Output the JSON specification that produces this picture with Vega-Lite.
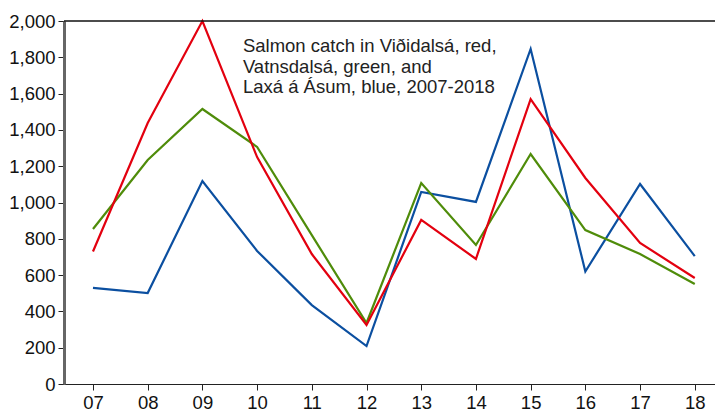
{
  "$schema": "https://vega.github.io/schema/vega-lite/v6.json",
  "width": 651,
  "height": 363,
  "autosize": {"type": "none"},
  "padding": {"left": 64, "top": 21, "right": 0, "bottom": 27},
  "background": "white",
  "config": {
    "view": {"stroke": null},
    "font": "Liberation Sans",
    "axis": {
      "labelFont": "Liberation Sans",
      "labelFontSize": 18.5,
      "labelColor": "#111",
      "tickColor": "#222",
      "grid": false,
      "title": null,
      "labelOverlap": false
    }
  },
  "data": {
    "values": [
      {"year": 2007, "river": "Laxá á Ásum", "catch": 530},
      {"year": 2008, "river": "Laxá á Ásum", "catch": 501},
      {"year": 2009, "river": "Laxá á Ásum", "catch": 1118},
      {"year": 2010, "river": "Laxá á Ásum", "catch": 733},
      {"year": 2011, "river": "Laxá á Ásum", "catch": 435},
      {"year": 2012, "river": "Laxá á Ásum", "catch": 209},
      {"year": 2013, "river": "Laxá á Ásum", "catch": 1058},
      {"year": 2014, "river": "Laxá á Ásum", "catch": 1003},
      {"year": 2015, "river": "Laxá á Ásum", "catch": 1846},
      {"year": 2016, "river": "Laxá á Ásum", "catch": 620},
      {"year": 2017, "river": "Laxá á Ásum", "catch": 1102},
      {"year": 2018, "river": "Laxá á Ásum", "catch": 705},
      {"year": 2007, "river": "Vatnsdalsá", "catch": 854},
      {"year": 2008, "river": "Vatnsdalsá", "catch": 1234},
      {"year": 2009, "river": "Vatnsdalsá", "catch": 1515},
      {"year": 2010, "river": "Vatnsdalsá", "catch": 1306},
      {"year": 2011, "river": "Vatnsdalsá", "catch": 820},
      {"year": 2012, "river": "Vatnsdalsá", "catch": 336},
      {"year": 2013, "river": "Vatnsdalsá", "catch": 1107},
      {"year": 2014, "river": "Vatnsdalsá", "catch": 766},
      {"year": 2015, "river": "Vatnsdalsá", "catch": 1267},
      {"year": 2016, "river": "Vatnsdalsá", "catch": 848},
      {"year": 2017, "river": "Vatnsdalsá", "catch": 716},
      {"year": 2018, "river": "Vatnsdalsá", "catch": 551},
      {"year": 2007, "river": "Víðidalsá", "catch": 730},
      {"year": 2008, "river": "Víðidalsá", "catch": 1438},
      {"year": 2009, "river": "Víðidalsá", "catch": 2000},
      {"year": 2010, "river": "Víðidalsá", "catch": 1250},
      {"year": 2011, "river": "Víðidalsá", "catch": 716},
      {"year": 2012, "river": "Víðidalsá", "catch": 325},
      {"year": 2013, "river": "Víðidalsá", "catch": 904},
      {"year": 2014, "river": "Víðidalsá", "catch": 689},
      {"year": 2015, "river": "Víðidalsá", "catch": 1570},
      {"year": 2016, "river": "Víðidalsá", "catch": 1135},
      {"year": 2017, "river": "Víðidalsá", "catch": 777},
      {"year": 2018, "river": "Víðidalsá", "catch": 584}
    ]
  },
  "encoding": {
    "x": {
      "field": "year",
      "type": "quantitative",
      "scale": {"domain": [2006.47, 2018.37], "nice": false, "zero": false},
      "axis": {
        "values": [2007, 2008, 2009, 2010, 2011, 2012, 2013, 2014, 2015, 2016, 2017, 2018],
        "format": "d",
        "labelExpr": "substring(datum.label, 2)",
        "domainColor": "#222",
        "domainWidth": 1.2,
        "tickSize": 6,
        "labelPadding": 3,
        "labelOverlap": false
      }
    },
    "y": {
      "field": "catch",
      "type": "quantitative",
      "scale": {"domain": [0, 2000], "nice": false},
      "axis": {
        "values": [0, 200, 400, 600, 800, 1000, 1200, 1400, 1600, 1800, 2000],
        "format": ",d",
        "domainColor": "#666",
        "domainWidth": 3,
        "tickSize": 6,
        "labelPadding": 3,
        "labelOverlap": false
      }
    }
  },
  "layer": [
    {
      "mark": {"type": "line", "strokeWidth": 2.2, "clip": false},
      "encoding": {
        "color": {
          "field": "river",
          "type": "nominal",
          "scale": {
            "domain": ["Laxá á Ásum", "Vatnsdalsá", "Víðidalsá"],
            "range": ["#0b4fa0", "#4f8c0a", "#e3000f"]
          },
          "legend": null
        }
      }
    },
    {
      "data": {"values": [{"top": 2000}]},
      "mark": {"type": "rule", "color": "#111", "strokeWidth": 1.4},
      "encoding": {"x": null, "y": {"field": "top", "type": "quantitative"}}
    },
    {
      "data": {"values": [{"yr": 2009.74, "val": 1829}]},
      "mark": {
        "type": "text",
        "text": ["Salmon catch in Viðidalsá, red,", "Vatnsdalsá, green, and", "Laxá á Ásum, blue, 2007-2018"],
        "align": "left",
        "baseline": "alphabetic",
        "font": "Liberation Sans",
        "fontSize": 18.5,
        "lineHeight": 20.5,
        "fill": "#222",
        "stroke": null
      },
      "encoding": {
        "x": {"field": "yr", "type": "quantitative"},
        "y": {"field": "val", "type": "quantitative"}
      }
    }
  ]
}
